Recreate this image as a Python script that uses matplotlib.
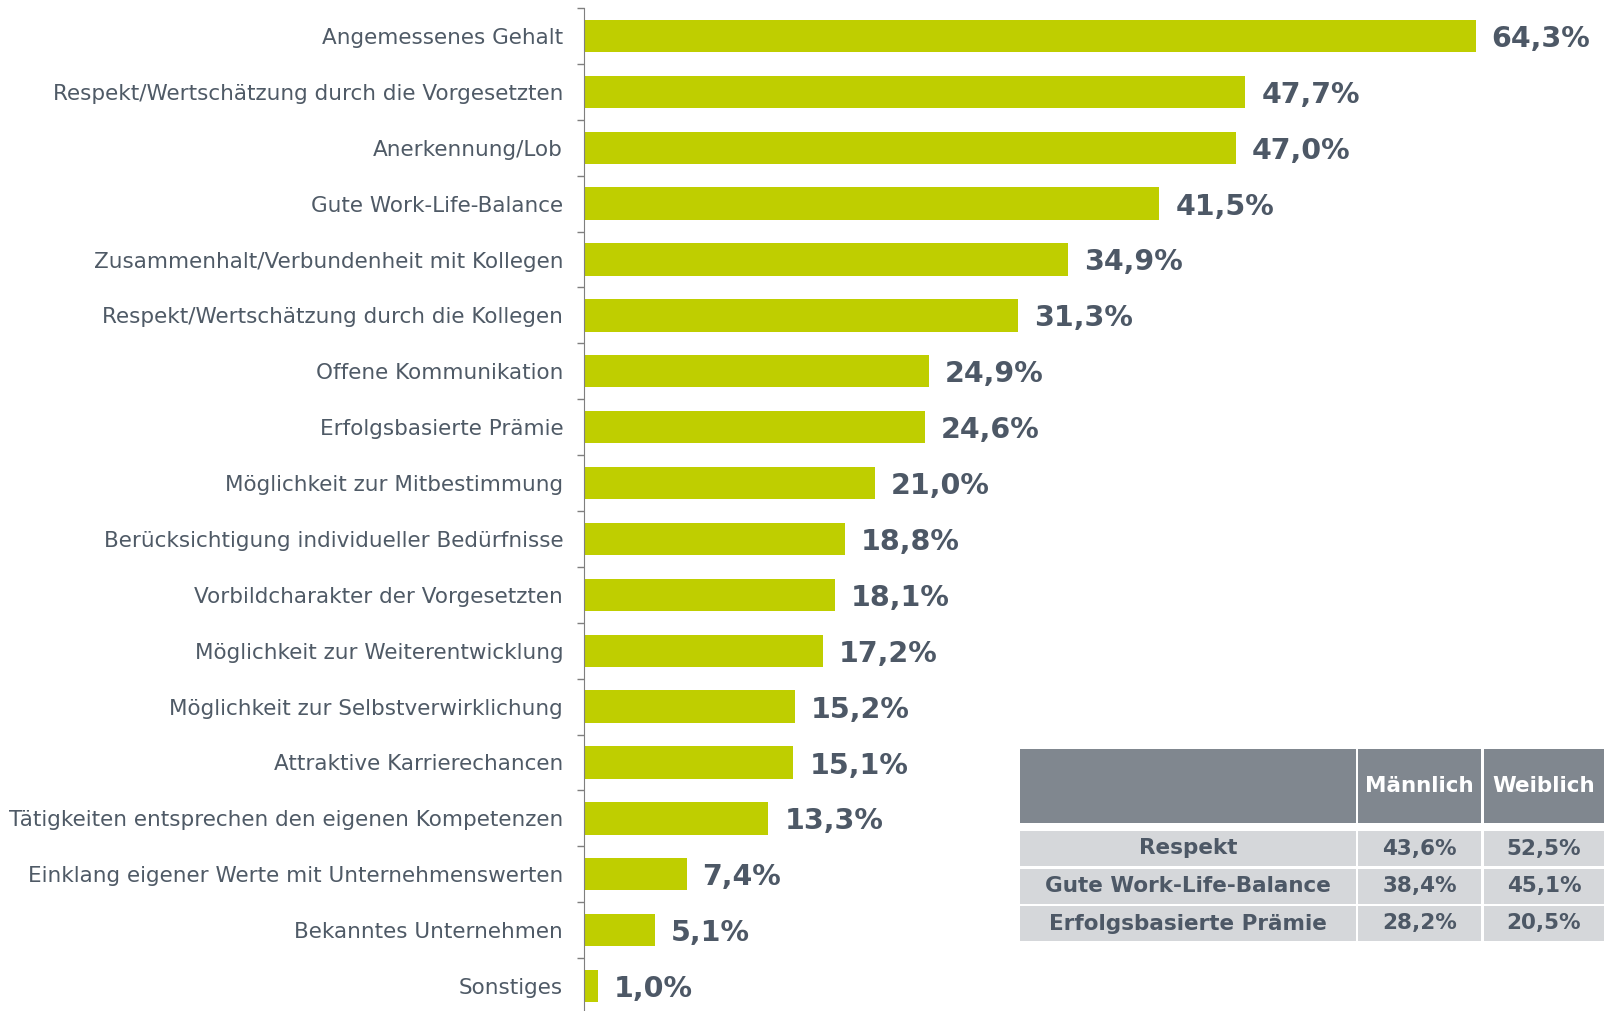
import matplotlib
matplotlib.use("Agg")
import numpy as np
import matplotlib.pyplot as plt
from matplotlib.patches import Rectangle

# data
categories = [
    "Angemessenes Gehalt",
    "Respekt/Wertschätzung durch die Vorgesetzten",
    "Anerkennung/Lob",
    "Gute Work-Life-Balance",
    "Zusammenhalt/Verbundenheit mit Kollegen",
    "Respekt/Wertschätzung durch die Kollegen",
    "Offene Kommunikation",
    "Erfolgsbasierte Prämie",
    "Möglichkeit zur Mitbestimmung",
    "Berücksichtigung individueller Bedürfnisse",
    "Vorbildcharakter der Vorgesetzten",
    "Möglichkeit zur Weiterentwicklung",
    "Möglichkeit zur Selbstverwirklichung",
    "Attraktive Karrierechancen",
    "Tätigkeiten entsprechen den eigenen Kompetenzen",
    "Einklang eigener Werte mit Unternehmenswerten",
    "Bekanntes Unternehmen",
    "Sonstiges",
]
values = [64.3, 47.7, 47.0, 41.5, 34.9, 31.3, 24.9, 24.6, 21.0, 18.8,
          18.1, 17.2, 15.2, 15.1, 13.3, 7.4, 5.1, 1.0]

table_header = ["", "Männlich", "Weiblich"]
table_rows = ["Respekt", "Gute Work-Life-Balance", "Erfolgsbasierte Prämie"]
male = [43.6, 38.4, 28.2]
female = [52.5, 45.1, 20.5]

bar_color = "#bfce00"
text_color = "#4d5866"
label_color = "#4f5a66"

def fmt(v):
    return f"{v:.1f}%".replace(".", ",")

plt.rcParams['font.family'] = ['DejaVu Sans']

fig = plt.figure(figsize=(16.06, 10.11), dpi=100)
ax = fig.add_axes([584 / 1606, -3 / 1011, 1 - 584 / 1606, 1006 / 1011])

y = np.arange(len(categories))
ax.barh(y, values, height=0.58, color=bar_color)
for yi, v in zip(y, values):
    ax.text(v + 1.15, yi, fmt(v), va="center_baseline", ha="left",
            fontsize=20.5, fontweight="bold", color=text_color)

ax.set_ylim(len(categories) - 0.5, -0.5)
ax.set_xlim(0, 73.7)
ax.set_yticks(y)
ax.set_yticklabels(categories, fontsize=15.5, color=label_color)
ax.tick_params(axis="y", which="major", length=0, pad=15)
ax.set_yticks(np.arange(len(categories) + 1) - 0.5, minor=True)
ax.tick_params(axis="y", which="minor", length=5, color="#7f7f7f", width=1)
ax.set_xticks([])
for s in ["top", "right", "bottom"]:
    ax.spines[s].set_visible(False)
ax.spines["left"].set_color("#7f7f7f")

# table in pixel coordinates of its own axes
tx0, ty0, tx1, ty1 = 1020, 749, 1604, 941
tw, th = tx1 - tx0, ty1 - ty0
tax = fig.add_axes([tx0 / 1606, 1 - ty1 / 1011, tw / 1606, th / 1011])
tax.set_xlim(0, tw)
tax.set_ylim(th, 0)
tax.axis("off")

cols = [(0, 336), (338, 461), (464, tw)]
header_h = 74
row_tops = [82, 119.5, 157]
row_h = 35

for (c0, c1), txt in zip(cols, table_header):
    tax.add_patch(Rectangle((c0, 0), c1 - c0, header_h, color="#80878f", lw=0))
    tax.text((c0 + c1) / 2, header_h / 2, txt, ha="center", va="center",
             fontsize=15.5, fontweight="bold", color="white")

for rt, name, m, f in zip(row_tops, table_rows, male, female):
    for (c0, c1), txt in zip(cols, [name, fmt(m), fmt(f)]):
        tax.add_patch(Rectangle((c0, rt), c1 - c0, row_h, color="#d5d7da", lw=0))
        tax.text((c0 + c1) / 2, rt + row_h / 2, txt, ha="center", va="center",
                 fontsize=15.5, fontweight="bold", color=text_color)

fig.savefig("out.png", dpi=100)
